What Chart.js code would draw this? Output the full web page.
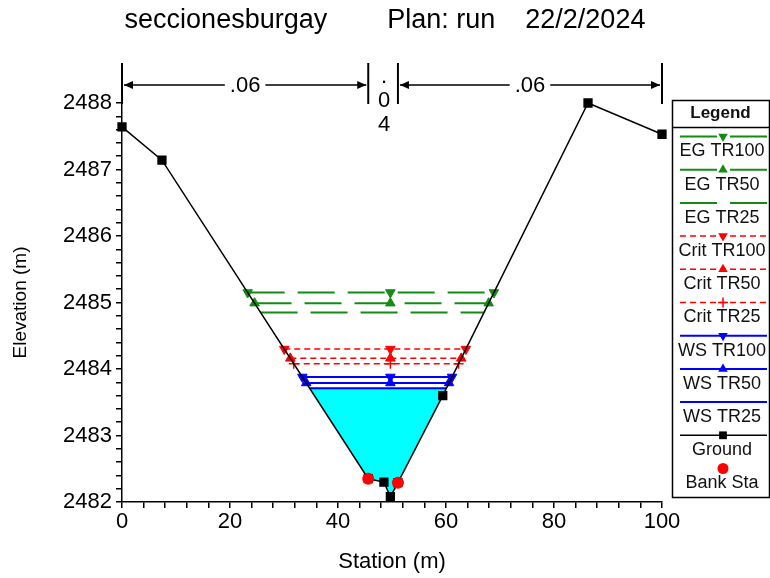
<!DOCTYPE html>
<html>
<head>
<meta charset="utf-8">
<script src="https://cdn.jsdelivr.net/npm/chart.js@4.4.1/dist/chart.umd.min.js"></script>
<style>
  html, body { margin: 0; padding: 0; background: #fff; }
  #wrap { width: 770px; height: 578px; position: relative; }
</style>
</head>
<body>
<div id="wrap"><canvas id="chart-canvas" width="770" height="578"></canvas></div>
<script>
// ground profile (station m / elevation m)
const groundStation = [0, 7.4, 45.6, 48.5, 49.7, 51.1, 59.4, 86.3, 100];
const groundElev = [2487.64, 2487.14, 2482.35, 2482.30, 2482.08, 2482.29, 2483.60, 2488.00, 2487.53];

// bank stations
const bankStation = [45.6, 51.1];
const bankElev = [2482.35, 2482.29];

// profiles: TR100, TR50, TR25
const egLevels = [2485.15, 2484.99, 2484.85];
const critLevels = [2484.30, 2484.16, 2484.08];
const wsLevels = [2483.88, 2483.79, 2483.71];

// manning n values along the section
const nStations = [0, 45.6, 51.1, 100];
const nValues = ['.06', '.04', '.06'];

const FONT = '"Liberation Sans", Arial, sans-serif';
Chart.defaults.font.family = FONT;
Chart.defaults.color = '#000';

const iLow = groundElev.indexOf(Math.min(...groundElev));
const thalweg = groundStation[iLow];

// where a water level meets the ground on each side of the thalweg
function wetLimits(level) {
    let left = groundStation[0];
    let right = groundStation[groundStation.length - 1];
    for (let i = iLow; i > 0; i--) {
        if (groundElev[i - 1] >= level) {
            const t = (level - groundElev[i]) / (groundElev[i - 1] - groundElev[i]);
            left = groundStation[i] + t * (groundStation[i - 1] - groundStation[i]);
            break;
        }
    }
    for (let i = iLow; i < groundElev.length - 1; i++) {
        if (groundElev[i + 1] >= level) {
            const t = (level - groundElev[i]) / (groundElev[i + 1] - groundElev[i]);
            right = groundStation[i] + t * (groundStation[i + 1] - groundStation[i]);
            break;
        }
    }
    return [left, right];
}

function profileLine(label, level, color, dash, width, style, rotation) {
    const [l, r] = wetLimits(level);
    return {
        label: label,
        data: [{ x: l, y: level }, { x: thalweg, y: level }, { x: r, y: level }],
        borderColor: color,
        backgroundColor: color,
        borderDash: dash,
        borderWidth: width,
        pointStyle: style || 'circle',
        pointRadius: style ? (style === 'cross' ? 5 : 5.5) : 0,
        pointBorderWidth: style === 'cross' ? 1.5 : 1,
        pointRotation: rotation || 0,
        fill: false,
        clip: false
    };
}

const EG = 'rgb(20,140,20)';
const CRIT = '#ff0000';
const WS = '#0000ff';
const egDash = [37, 13];
const critDash = [6, 4];

// water below lowest profile
const [wl, wr] = wetLimits(wsLevels[2]);
const waterData = [{ x: wl, y: wsLevels[2] }];
groundStation.forEach((s, i) => {
    if (s > wl && s < wr) waterData.push({ x: s, y: groundElev[i] });
});
waterData.push({ x: wr, y: wsLevels[2] });

const datasets = [
    {
        label: 'Bank Sta',
        data: bankStation.map((s, i) => ({ x: s, y: bankElev[i] })),
        showLine: false,
        pointStyle: 'circle',
        pointRadius: 5.5,
        backgroundColor: '#ff0000',
        borderColor: '#ff0000',
        clip: false
    },
    {
        label: 'Ground',
        data: groundStation.map((s, i) => ({ x: s, y: groundElev[i] })),
        borderColor: '#000',
        backgroundColor: '#000',
        borderWidth: 1.5,
        pointStyle: 'rect',
        pointRadius: 5.5,
        clip: false
    },
    profileLine('WS TR100', wsLevels[0], WS, [], 2, 'triangle', 180),
    profileLine('WS TR50', wsLevels[1], WS, [], 2, 'triangle', 0),
    profileLine('WS TR25', wsLevels[2], WS, [], 2, null, 0),
    profileLine('Crit TR100', critLevels[0], CRIT, critDash, 1.5, 'triangle', 180),
    profileLine('Crit TR50', critLevels[1], CRIT, critDash, 1.5, 'triangle', 0),
    profileLine('Crit TR25', critLevels[2], CRIT, critDash, 1.5, 'cross', 0),
    profileLine('EG TR100', egLevels[0], EG, egDash, 2, 'triangle', 180),
    profileLine('EG TR50', egLevels[1], EG, egDash, 2, 'triangle', 0),
    profileLine('EG TR25', egLevels[2], EG, egDash, 2, null, 0),
    {
        label: 'water',
        data: waterData,
        borderColor: 'rgba(0,0,0,0)',
        borderWidth: 0,
        pointRadius: 0,
        backgroundColor: '#00ffff',
        fill: { value: wsLevels[2] }
    }
];

const legendOrder = ['EG TR100', 'EG TR50', 'EG TR25', 'Crit TR100', 'Crit TR50', 'Crit TR25',
    'WS TR100', 'WS TR50', 'WS TR25', 'Ground', 'Bank Sta'];

function drawMarker(ctx, style, x, y, r, rotation, color, lw) {
    ctx.save();
    ctx.translate(x, y);
    ctx.rotate((rotation || 0) * Math.PI / 180);
    ctx.fillStyle = color;
    ctx.strokeStyle = color;
    ctx.lineWidth = lw || 1;
    ctx.setLineDash([]);
    ctx.beginPath();
    if (style === 'triangle') {
        ctx.moveTo(0, -r);
        ctx.lineTo(r * 0.87, r * 0.5);
        ctx.lineTo(-r * 0.87, r * 0.5);
        ctx.closePath();
        ctx.fill();
    } else if (style === 'rect') {
        const h = r * Math.SQRT1_2;
        ctx.fillRect(-h, -h, 2 * h, 2 * h);
    } else if (style === 'circle') {
        ctx.arc(0, 0, r, 0, Math.PI * 2);
        ctx.fill();
    } else if (style === 'cross') {
        ctx.moveTo(-r, 0); ctx.lineTo(r, 0);
        ctx.moveTo(0, -r); ctx.lineTo(0, r);
        ctx.stroke();
    }
    ctx.restore();
}

const legendBox = {
    id: 'legendBox',
    afterDraw(chart) {
        const ctx = chart.ctx;
        const x0 = 672, x1 = 769, y0 = 100, y1 = 497;
        ctx.save();
        ctx.strokeStyle = '#000';
        ctx.lineWidth = 1.5;
        ctx.strokeRect(x0 + 0.5, y0 + 0.5, x1 - x0, y1 - y0);
        ctx.beginPath();
        ctx.moveTo(x0, 127.5); ctx.lineTo(x1, 127.5);
        ctx.stroke();
        const cx = (x0 + x1) / 2;
        ctx.fillStyle = '#111';
        ctx.textAlign = 'center';
        ctx.textBaseline = 'middle';
        ctx.font = 'bold 17px ' + FONT;
        ctx.fillText('Legend', cx, 113);
        ctx.font = '18px ' + FONT;
        legendOrder.forEach((name, i) => {
            const ds = chart.data.datasets.find(d => d.label === name);
            const ly = 136.5 + i * 33.2;
            if (ds.showLine !== false) {
                ctx.save();
                ctx.strokeStyle = ds.borderColor;
                ctx.lineWidth = ds.borderWidth;
                ctx.setLineDash(ds.borderDash || []);
                ctx.beginPath();
                ctx.moveTo(680, ly); ctx.lineTo(767, ly);
                ctx.stroke();
                ctx.restore();
            }
            if (ds.pointRadius > 0) {
                drawMarker(ctx, ds.pointStyle, 723, ly, ds.pointRadius, ds.pointRotation,
                    ds.backgroundColor, ds.pointBorderWidth);
            }
            ctx.fillStyle = '#111';
            ctx.fillText(name, 722, ly + 15);
        });
        ctx.restore();
    }
};

// manning n bars above the plot
const nBars = {
    id: 'nBars',
    afterDraw(chart) {
        const ctx = chart.ctx;
        const xs = chart.scales.x;
        const top = chart.chartArea.top;
        const yA = top - 18;
        ctx.save();
        ctx.strokeStyle = '#000';
        ctx.fillStyle = '#000';
        ctx.lineWidth = 2;
        const px = nStations.map(s => xs.getPixelForValue(s));
        px.forEach(p => {
            ctx.beginPath();
            ctx.moveTo(p, top - 40); ctx.lineTo(p, top + 1);
            ctx.stroke();
        });
        ctx.font = '22px ' + FONT;
        ctx.textAlign = 'center';
        ctx.textBaseline = 'middle';
        nValues.forEach((n, i) => {
            const a = px[i] + 2, b = px[i + 1] - 2;
            const mid = (a + b) / 2;
            const w = ctx.measureText(n).width;
            if (b - a > w + 30) {
                ctx.lineWidth = 1.5;
                ctx.beginPath();
                ctx.moveTo(a, yA); ctx.lineTo(mid - w / 2 - 5, yA);
                ctx.moveTo(mid + w / 2 + 5, yA); ctx.lineTo(b, yA);
                ctx.stroke();
                ctx.beginPath();
                ctx.moveTo(a, yA); ctx.lineTo(a + 9, yA - 4); ctx.lineTo(a + 9, yA + 4); ctx.closePath();
                ctx.moveTo(b, yA); ctx.lineTo(b - 9, yA - 4); ctx.lineTo(b - 9, yA + 4); ctx.closePath();
                ctx.fill();
                ctx.fillText(n, mid, yA + 1);
            } else {
                // too narrow: stack the characters
                n.split('').forEach((ch, k) => {
                    ctx.fillText(ch, mid + 1, top - 26 + k * 24);
                });
            }
        });
        ctx.restore();
    }
};

new Chart(document.getElementById('chart-canvas'), {
    type: 'line',
    data: { datasets: datasets },
    options: {
        responsive: false,
        animation: false,
        events: [],
        layout: { padding: 0 },
        elements: { line: { tension: 0 } },
        plugins: {
            legend: { display: false },
            tooltip: { enabled: false },
            title: {
                display: true,
                text: 'seccionesburgay        Plan: run    22/2/2024',
                font: { size: 27, weight: 'normal', family: FONT },
                color: '#000',
                padding: { top: 4, bottom: 66.6 }
            }
        },
        scales: {
            x: {
                type: 'linear',
                min: 0,
                max: 100,
                ticks: {
                    stepSize: 4,
                    autoSkip: false,
                    maxRotation: 0,
                    padding: 1,
                    font: { size: 22 },
                    color: '#000',
                    callback: v => (Math.round(v) % 20 === 0 ? String(Math.round(v)) : '')
                },
                grid: { drawOnChartArea: false, drawTicks: true, tickLength: 6, color: '#000', lineWidth: 1.5 },
                border: { display: true, color: '#000', width: 1.5 },
                title: { display: true, text: 'Station (m)', font: { size: 22 }, color: '#000', padding: { top: 0, bottom: 3 } },
                afterFit: s => { s.height = 76; }
            },
            y: {
                type: 'linear',
                min: 2482,
                max: 2488,
                ticks: {
                    stepSize: 0.2,
                    autoSkip: false,
                    padding: 4,
                    font: { size: 22 },
                    color: '#000',
                    callback: v => (Math.abs(v - Math.round(v)) < 1e-6 ? String(Math.round(v)) : '')
                },
                grid: { drawOnChartArea: false, drawTicks: true, tickLength: 6, color: '#000', lineWidth: 1.5 },
                border: { display: true, color: '#000', width: 1.5 },
                title: { display: true, text: 'Elevation (m)', font: { size: 19 }, color: '#000', padding: { top: 9, bottom: 0 } },
                afterFit: s => { s.width = 122; }
            },
            // empty right-hand strip that holds the legend box
            side: {
                type: 'linear',
                position: 'right',
                display: true,
                grid: { display: false },
                border: { display: false },
                ticks: { display: false },
                afterFit: s => { s.width = 108; }
            }
        }
    },
    plugins: [nBars, legendBox]
});
</script>
</body>
</html>
